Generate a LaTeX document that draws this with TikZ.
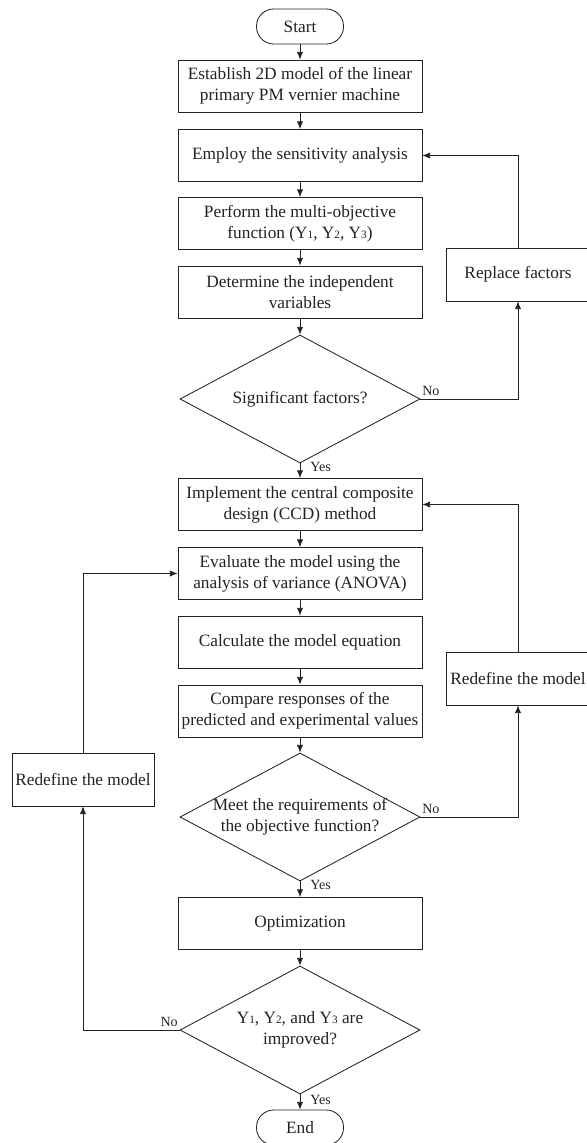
\documentclass[tikz,border=0pt]{standalone}
\usepackage{fontspec}
\setmainfont{Liberation Serif}
\usepackage{tikz}
\usetikzlibrary{shapes.geometric}
\usetikzlibrary{arrows.meta}
\definecolor{linecol}{HTML}{222222}
\newcommand{\mainfs}{\fontsize{12.3}{14.8}\selectfont}
\newcommand{\lblfs}{\fontsize{10}{12}\selectfont}
\newcommand{\ysub}[1]{{\fontsize{8}{8}\selectfont #1}}
\tikzset{procbox/.style={draw=linecol,line width=0.6pt,minimum width=6.1cm,
        minimum height=1.3cm,align=center,font=\mainfs,inner sep=2pt,text=linecol},
    sidebox/.style={procbox,minimum width=3.6cm,minimum height=1.325cm},
    termbox/.style={procbox,minimum width=2.175cm,minimum height=0.875cm,
        rounded corners=0.43cm},
    decbox/.style={draw=linecol,line width=0.6pt,diamond,aspect=1.875,
        minimum width=6cm,minimum height=3.2cm,inner sep=0pt,align=center,
        font=\mainfs,text=linecol},
    flowarrow/.style={-{Latex[length=5.5pt,width=4.5pt]},line width=0.6pt,draw=linecol},
    flowline/.style={line width=0.6pt,draw=linecol},
    ynlabel/.style={font=\lblfs,inner sep=0pt,text=linecol}
}

\begin{document}
\begin{tikzpicture}
           \useasboundingbox (0,0) rectangle (14.65,-28.575);
           % main column
           \node[termbox] (start) at (7.5,-0.6625) {Start};
           \node[procbox] (establish) at (7.5,-2.15) {Establish 2D model of the linear\\primary PM vernier machine};
           \node[procbox] (employ) at (7.5,-3.8875) {Employ the sensitivity analysis};
           \node[procbox] (perform) at (7.5,-5.5875) {Perform the multi-objective\\function (Y\ysub{1}, Y\ysub{2}, Y\ysub{3})};
           \node[procbox] (determine) at (7.5,-7.3) {Determine the independent\\variables};
           \node[decbox] (dec1) at (7.5,-9.975) {Significant factors?};
           \node[procbox] (implement) at (7.5,-12.6125) {Implement the central composite\\design (CCD) method};
           \node[procbox] (evaluate) at (7.5,-14.3375) {Evaluate the model using the\\analysis of variance (ANOVA)};
           \node[procbox] (calculate) at (7.5,-16.05) {Calculate the model equation};
           \node[procbox] (compare) at (7.5,-17.775) {Compare responses of the\\predicted and experimental values};
           \node[decbox,inner sep=-3pt] (dec2) at (7.5,-20.425) {Meet the requirements of\\the objective function?};
           \node[procbox] (optim) at (7.5,-23.0875) {Optimization};
           \node[decbox] (dec3) at (7.5,-25.75) {Y\ysub{1}, Y\ysub{2}, and Y\ysub{3} are\\improved?};
           \node[termbox] (stop) at (7.5,-28.1875) {End};
           % side boxes
           \node[sidebox] (replace) at (12.95,-6.8625) {Replace factors};
           \node[sidebox] (redefR) at (12.95,-16.9625) {Redefine the model};
           \node[sidebox,minimum width=3.55cm] (redefL) at (2.075,-19.4875) {Redefine the model};
           % main arrows
           \draw[flowarrow] (start) -- (establish);
           \draw[flowarrow] (establish) -- (employ);
           \draw[flowarrow] (employ) -- (perform);
           \draw[flowarrow] (perform) -- (determine);
           \draw[flowarrow] (determine) -- (dec1);
           \draw[flowarrow] (dec1) -- (implement);
           \draw[flowarrow] (implement) -- (evaluate);
           \draw[flowarrow] (evaluate) -- (calculate);
           \draw[flowarrow] (calculate) -- (compare);
           \draw[flowarrow] (compare) -- (dec2);
           \draw[flowarrow] (dec2) -- (optim);
           \draw[flowarrow] (optim) -- (dec3);
           \draw[flowarrow] (dec3) -- (stop);
           % feedback loops
           \draw[flowarrow] (dec1.east) -| (replace.south);
           \draw[flowarrow] (replace.north) |- (employ.east);
           \draw[flowarrow] (dec2.east) -| (redefR.south);
           \draw[flowarrow] (redefR.north) |- (implement.east);
           \draw[flowarrow] (dec3.west) -| (redefL.south);
           \draw[flowarrow] (redefL.north) |- (evaluate.west);
           % yes / no labels
           \node[ynlabel,anchor=south west] (no1) at (10.55,-9.9) {No};
           \node[ynlabel,anchor=west] (yes1) at (7.75,-11.675) {Yes};
           \node[ynlabel,anchor=south west] (no2) at (10.55,-20.35) {No};
           \node[ynlabel,anchor=west] (yes2) at (7.75,-22.125) {Yes};
           \node[ynlabel,anchor=south east] (no3) at (4.45,-25.68) {No};
           \node[ynlabel,anchor=west] (yes3) at (7.75,-27.5) {Yes};
         \end{tikzpicture}
\end{document}
